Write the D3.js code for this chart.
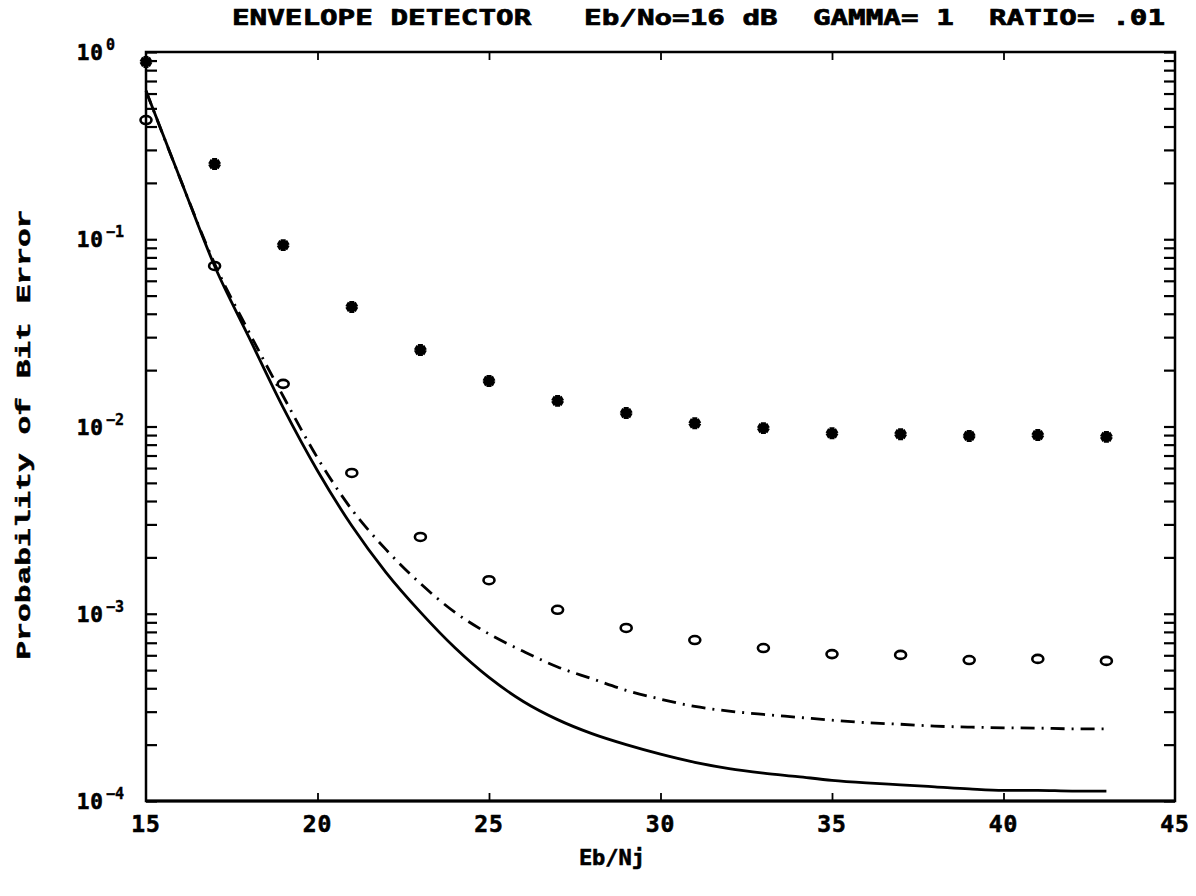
<!DOCTYPE html>
<html><head><meta charset="utf-8">
<script src="https://cdn.jsdelivr.net/npm/d3@7"></script>
<style>
html,body{margin:0;padding:0;background:#fff;}
text{fill:#000;}
</style></head>
<body>
<script>
// ---- data ----
const titleText = "ENVELOPE DETECTOR   Eb/No=16 dB  GAMMA= 1  RATIO= .01";
const xLabel = "Eb/Nj";
const yLabel = "Probability of Bit Error";
const xTicks = [15, 20, 25, 30, 35, 40, 45];
const yTickExps = [0, -1, -2, -3, -4];

const markerX = [15, 17, 19, 21, 23, 25, 27, 29, 31, 33, 35, 37, 39, 41, 43];
const starY = [0.885, 0.252, 0.093, 0.0435, 0.0256, 0.0175, 0.0137, 0.0118, 0.0104, 0.0098, 0.0092, 0.0091, 0.0089, 0.0090, 0.0088];
const circleY = [0.433, 0.072, 0.0169, 0.00565, 0.00257, 0.00151, 0.00105, 0.00084, 0.000724, 0.000656, 0.000609, 0.000603, 0.000566, 0.000574, 0.00056];

const curveX = [15,16,17,18,19,20,21,22,23,24,25,26,27,28,29,30,31,32,33,34,35,36,37,38,39,40,41,42,43];
const solidY = [0.62,0.21,0.072,0.03,0.0126,0.0058,0.00295,0.00166,0.00102,0.00066,0.000457,0.00034,0.000272,0.000229,0.0002,0.000178,0.000161,0.000149,0.000141,0.000135,0.000129,0.000125,0.000122,0.000119,0.000116,0.000114,0.000114,0.000113,0.000113];
const dashDotY = [0.62,0.21,0.074,0.032,0.0145,0.0068,0.0036,0.0022,0.00145,0.00102,0.00078,0.00063,0.00052,0.00045,0.00039,0.00035,0.00032,0.000302,0.00029,0.00028,0.00027,0.000262,0.000257,0.000251,0.000248,0.000246,0.000245,0.000243,0.000243];

// ---- layout ----
const W = 1196, H = 896;
const L = 146, R = 1175, T = 52, B = 801;
const svg = d3.select("body").append("svg").attr("width", W).attr("height", H)
  .style("background", "#fff");

const x = d3.scaleLinear().domain([15, 45]).range([L, R]);
const y = d3.scaleLog().domain([1e-4, 1]).range([B, T]);

const bold = "'DejaVu Sans Mono', monospace";

// frame
svg.append("rect").attr("x", L).attr("y", T).attr("width", R - L).attr("height", B - T)
  .attr("fill", "none").attr("stroke", "#000").attr("stroke-width", 2.5);
svg.append("line").attr("x1", L).attr("x2", R).attr("y1", B).attr("y2", B)
  .attr("stroke", "#000").attr("stroke-width", 3.2);

// minor/major ticks on y (both sides, inward)
const yTickVals = [];
for (let e = -4; e < 0; e++) for (let m = 1; m <= 9; m++) yTickVals.push(m * Math.pow(10, e));
yTickVals.push(1);
const yTickLen = 11;
svg.append("g").attr("transform", `translate(${L},0)`)
  .call(d3.axisRight(y).tickValues(yTickVals).tickSize(yTickLen).tickFormat(""))
  .call(g => { g.select(".domain").remove(); g.selectAll("line").attr("stroke-width", 2.2); });
svg.append("g").attr("transform", `translate(${R},0)`)
  .call(d3.axisLeft(y).tickValues(yTickVals).tickSize(yTickLen).tickFormat(""))
  .call(g => { g.select(".domain").remove(); g.selectAll("line").attr("stroke-width", 2.2); });

// x ticks (bottom and top, inward)
const xInner = xTicks.filter(d => d > 15 && d < 45);
svg.append("g").attr("transform", `translate(0,${B})`)
  .call(d3.axisTop(x).tickValues(xInner).tickSize(8).tickFormat(""))
  .call(g => { g.select(".domain").remove(); g.selectAll("line").attr("stroke-width", 1.8); });
svg.append("g").attr("transform", `translate(0,${T})`)
  .call(d3.axisBottom(x).tickValues(xInner).tickSize(8).tickFormat(""))
  .call(g => { g.select(".domain").remove(); g.selectAll("line").attr("stroke-width", 1.8); });

// x tick labels
svg.append("g").selectAll("text").data(xTicks).join("text")
  .attr("x", d => x(d)).attr("y", 832).attr("text-anchor", "middle")
  .attr("font-family", bold).attr("font-weight", "bold").attr("font-size", 23)
  .attr("letter-spacing", 1).attr("stroke", "#000").attr("stroke-width", 0.6)
  .text(d => d);

// y tick labels 10^e
const yl = svg.append("g").selectAll("g").data(yTickExps).join("g")
  .attr("transform", d => `translate(0,${y(Math.pow(10, d))})`);
yl.append("text").attr("x", 104).attr("y", 8).attr("text-anchor", "end")
  .attr("font-family", bold).attr("font-weight", "bold").attr("font-size", 21)
  .attr("letter-spacing", 1).attr("stroke", "#000").attr("stroke-width", 0.6).text("10");
yl.append("text").attr("x", 106).attr("y", -2).attr("text-anchor", "start")
  .attr("font-family", bold).attr("font-weight", "bold").attr("font-size", 15)
  .attr("stroke", "#000").attr("stroke-width", 0.4)
  .text(d => d === 0 ? "0" : "\u2212" + Math.abs(d));

// title
svg.append("text").attr("x", 232).attr("y", 25)
  .attr("font-family", bold).attr("font-weight", "bold").attr("font-size", 22)
  .attr("textLength", 933).attr("lengthAdjust", "spacingAndGlyphs")
  .attr("stroke", "#000").attr("stroke-width", 0.7)
  .style("white-space", "pre")
  .text(titleText);

// axis titles
svg.append("text").attr("x", 612).attr("y", 865).attr("text-anchor", "middle")
  .attr("font-family", bold).attr("font-weight", "bold").attr("font-size", 22)
  .attr("stroke", "#000").attr("stroke-width", 0.6)
  .text(xLabel);
svg.append("text").attr("transform", `translate(30,${(T + B) / 2 + 8}) rotate(-90)`)
  .attr("text-anchor", "middle")
  .attr("font-family", "'Liberation Mono', 'Courier New', monospace").attr("font-weight", "bold")
  .attr("font-size", 20).attr("textLength", 450).attr("lengthAdjust", "spacingAndGlyphs")
  .attr("stroke", "#000").attr("stroke-width", 0.5)
  .style("white-space", "pre")
  .text(yLabel);

// curves
const line = (ys) => d3.line().x((d, i) => x(curveX[i])).y((d, i) => y(ys[i])).curve(d3.curveMonotoneX);
svg.append("path").datum(solidY).attr("d", line(solidY))
  .attr("fill", "none").attr("stroke", "#000").attr("stroke-width", 2.8);
svg.append("path").datum(dashDotY).attr("d", line(dashDotY))
  .attr("fill", "none").attr("stroke", "#000").attr("stroke-width", 2.8)
  .attr("stroke-dasharray", "14,7,2,7");

// star markers
svg.append("g").selectAll("path").data(markerX).join("path")
  .attr("transform", (d, i) => `translate(${x(d)},${y(starY[i])})`)
  .attr("d", d3.symbol().type(d3.symbolAsterisk).size(100))
  .attr("fill", "none").attr("stroke", "#000").attr("stroke-width", 5);

// circle markers
svg.append("g").selectAll("ellipse").data(markerX).join("ellipse")
  .attr("cx", d => x(d)).attr("cy", (d, i) => y(circleY[i]))
  .attr("rx", 5.5).attr("ry", 4)
  .attr("fill", "none").attr("stroke", "#000").attr("stroke-width", 2.6);
</script>
</body></html>
